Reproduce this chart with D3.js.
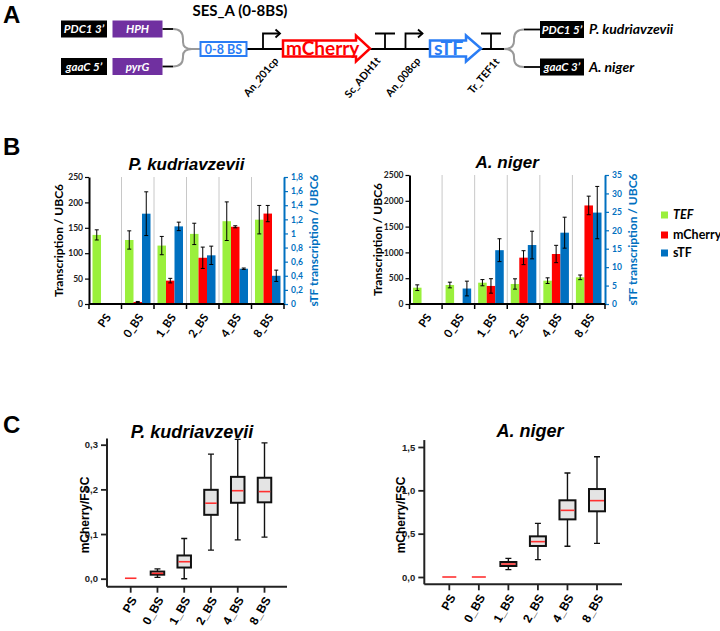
<!DOCTYPE html>
<html><head><meta charset="utf-8">
<script src="https://cdn.jsdelivr.net/npm/d3@7"></script>
<style>body{margin:0;background:#fff}</style>
</head><body>
<svg id="c" width="720" height="631" xmlns="http://www.w3.org/2000/svg"></svg>
<script>
// ---------------- DATA ----------------
const categories = ["PS","0_BS","1_BS","2_BS","4_BS","8_BS"];
const seriesNames = ["TEF","mCherry","sTF"];

// Panel B – P. kudriavzevii (TEF, mCherry on left axis; sTF on right axis)
const pkTEF = [136,126,115,138,163,166];
const pkTEFErr = [10,18,18,21,38,28];
const pkMCherry = [null,4,46,91,152,178];
const pkMCherryErr = [null,1,4.5,21,2,16];
const pkSTF = [null,1.28,1.10,0.69,0.50,0.40];
const pkSTFErr = [null,0.31,0.06,0.13,0.01,0.08];
const pkLeftTicks = [0,50,100,150,200,250];
const pkRightTicks = [0,0.2,0.4,0.6,0.8,1,1.2,1.4,1.6,1.8];

// Panel B – A. niger
const anTEF = [316,368,413,388,452,517];
const anTEFErr = [55,55,60,100,55,45];
const anMCherry = [null,null,350,898,969,1910];
const anMCherryErr = [null,null,140,135,168,180];
const anSTF = [null,4.2,14.6,16.0,19.35,24.8];
const anSTFErr = [null,2.0,3.1,3.75,4.2,7.1];
const anLeftTicks = [0,500,1000,1500,2000,2500];
const anRightTicks = [0,5,10,15,20,25,30,35];

// Panel C – mCherry/FSC box plots
const pkLow  = [0.001,0.003,0.000,0.064,0.087,0.093];
const pkQ1   = [0.001,0.009,0.025,0.143,0.170,0.171];
const pkMed  = [0.001,0.012,0.038,0.169,0.197,0.195];
const pkQ3   = [0.001,0.016,0.052,0.199,0.228,0.226];
const pkHigh = [0.001,0.022,0.090,0.279,0.312,0.304];
const pkCTicks = [0,0.1,0.2,0.3];

const anLow  = [0,0,0.085,0.200,0.354,0.388];
const anQ1   = [0,0,0.127,0.358,0.665,0.758];
const anMed  = [0,0,0.150,0.408,0.769,0.881];
const anQ3   = [0,0,0.173,0.469,0.885,1.015];
const anHigh = [0,0,0.215,0.619,1.200,1.388];
const anCTicks = [0,0.5,1.0,1.5];

// Panel A construct labels
const topParts = ["PDC1 3\u2019","HPH"];
const bottomParts = ["gaaC 5\u2019","pyrG"];
const rightParts = ["PDC1 5\u2019","gaaC 3\u2019"];
const species = ["P. kudriavzevii","A. niger"];
const elementLabels = ["An_201cp","Sc_ADH1t","An_008cp","Tr_TEF1t"];

// ---------------- STYLE ----------------
const GREEN = "#9af03c", RED = "#ff0000", BLUE = "#0070c0", ABLUE = "#2a7df5";
const CAL = "Lato, 'Open Sans', sans-serif";
const ARI = "'Liberation Sans', Arial, sans-serif";
const commaFmt = d => (+d.toFixed(1)).toString().replace(".", ",");
const comma1 = d => d.toFixed(1).replace(".", ",");
const intFmt = d3.format("d");

const svg = d3.select("#c");
svg.append("rect").attr("width",720).attr("height",631).attr("fill","#fff");

// ---------------- PANEL A ----------------
(function(){
  const g = svg.append("g");
  g.append("text").attr("x",3).attr("y",23).text("A")
    .attr("font-family",ARI).attr("font-weight","bold").attr("font-size",24);
  g.append("text").attr("x",240).attr("y",16).attr("text-anchor","middle").text("SES_A (0-8BS)")
    .attr("font-family",CAL).attr("font-weight","bold").attr("font-size",15);

  const lineY = 49;
  g.append("line").attr("x1",246).attr("x2",504).attr("y1",lineY).attr("y2",lineY)
    .attr("stroke","#000").attr("stroke-width",2);

  [[topParts,20.5],[bottomParts,58]].forEach(([parts,y])=>{
    g.append("rect").attr("x",61).attr("y",y).attr("width",46).attr("height",17).attr("fill","#000");
    g.append("text").attr("x",84).attr("y",y+12.5).attr("text-anchor","middle").text(parts[0])
      .attr("fill","#fff").attr("font-family",CAL).attr("font-weight","bold").attr("font-style","italic").attr("font-size",11.5);
    g.append("rect").attr("x",112.5).attr("y",y).attr("width",50).attr("height",17).attr("fill","#7030a0");
    g.append("text").attr("x",137.5).attr("y",y+12.5).attr("text-anchor","middle").text(parts[1])
      .attr("fill","#fff").attr("font-family",CAL).attr("font-weight","bold").attr("font-style","italic").attr("font-size",11.5);
    g.append("line").attr("x1",162.5).attr("x2",173).attr("y1",y+8.5).attr("y2",y+8.5).attr("stroke","#000").attr("stroke-width",1.8);
  });
  g.append("path").attr("d",`M173,29 Q183,29 183,39 L183,42 Q183,${lineY} 192,${lineY} M173,66.5 Q183,66.5 183,57 L183,56 Q183,${lineY} 192,${lineY} L200,${lineY}`)
    .attr("fill","none").attr("stroke","#999").attr("stroke-width",2);

  g.append("rect").attr("x",200.5).attr("y",42).attr("width",46).attr("height",14).attr("fill","#fff")
    .attr("stroke",ABLUE).attr("stroke-width",2);
  g.append("text").attr("x",223.5).attr("y",53.5).attr("text-anchor","middle").text("0-8 BS")
    .attr("fill",ABLUE).attr("font-family",CAL).attr("font-weight","bold").attr("font-size",12.5);

  function promoter(x){
    g.append("path").attr("d",`M${x},${lineY} V33.5 H${x+17}`).attr("fill","none").attr("stroke","#000").attr("stroke-width",1.8);
    g.append("path").attr("d",`M${x+12.5},29.5 L${x+17},33.5 L${x+12.5},37.5`).attr("fill","none").attr("stroke","#000").attr("stroke-width",1.8);
  }
  function terminator(x){
    g.append("path").attr("d",`M${x},${lineY} V33.5 M${x-10},33.5 H${x+10}`).attr("fill","none").attr("stroke","#000").attr("stroke-width",1.8);
  }
  function arrow(x0,x1,xt,col,label,fs,tx){
    const cy = 48.5;
    g.append("path").attr("d",`M${x0},${cy-8} H${x1} V${cy-13} L${xt},${cy} L${x1},${cy+13} V${cy+8} H${x0} Z`)
      .attr("fill","#fff").attr("stroke",col).attr("stroke-width",2.5).attr("stroke-linejoin","miter");
    g.append("text").attr("x",tx).attr("y",cy+6.5).text(label).attr("fill",col)
      .attr("font-family",CAL).attr("font-weight","bold").attr("font-size",fs);
  }
  promoter(263);
  arrow(283,356,370,RED,"mCherry",19,286);
  terminator(385);
  promoter(405.5);
  arrow(430,466,481,ABLUE,"sTF",19.5,434);
  terminator(491);

  g.append("path").attr("d",`M504,${lineY} Q514,${lineY} 514,41 L514,39 Q514,29.5 524,29.5 M504,${lineY} Q514,${lineY} 514,57 L514,58 Q514,67 524,67`)
    .attr("fill","none").attr("stroke","#999").attr("stroke-width",2);
  [[29.5,0],[67,1]].forEach(([cy,i])=>{
    g.append("line").attr("x1",524).attr("x2",540).attr("y1",cy).attr("y2",cy).attr("stroke","#000").attr("stroke-width",1.8);
    g.append("rect").attr("x",540).attr("y",cy-8.5).attr("width",44).attr("height",17).attr("fill","#000");
    g.append("text").attr("x",562).attr("y",cy+4).attr("text-anchor","middle").text(rightParts[i])
      .attr("fill","#fff").attr("font-family",CAL).attr("font-weight","bold").attr("font-style","italic").attr("font-size",11.5);
    g.append("text").attr("x",589).attr("y",cy+4.5).text(species[i])
      .attr("fill","#000").attr("font-family",CAL).attr("font-weight","bold").attr("font-style","italic").attr("font-size",14);
  });

  const labelPos = [[273,56],[375,56],[415,56],[494,57]];
  elementLabels.forEach((t,i)=>{
    g.append("text").attr("transform",`translate(${labelPos[i][0]},${labelPos[i][1]}) rotate(-50)`)
      .attr("text-anchor","end").attr("dy","0.75em").text(t)
      .attr("font-family",CAL).attr("font-weight","bold").attr("font-size",10.5);
  });
})();

// ---------------- PANEL B ----------------
svg.append("text").attr("x",3).attr("y",155).text("B")
  .attr("font-family",ARI).attr("font-weight","bold").attr("font-size",24);

function drawBars(cfg){
  const g = svg.append("g");
  const x = d3.scaleBand().domain(categories).range([cfg.x0,cfg.x1]);
  const xs = d3.scaleBand().domain(seriesNames).range([3.5, x.bandwidth()-3.5]);
  const yL = d3.scaleLinear().domain([0,cfg.leftMax]).range([cfg.yBottom,cfg.yTop]);
  const yR = d3.scaleLinear().domain([0,cfg.rightMax]).range([cfg.yBottom,cfg.yTop]);

  g.selectAll(".grid").data(categories.slice(1)).join("line")
    .attr("x1",d=>x(d)).attr("x2",d=>x(d)).attr("y1",cfg.yTop).attr("y2",cfg.yBottom)
    .attr("stroke","#c8c8c8").attr("stroke-width",1);

  const series = [
    {name:"TEF",v:cfg.tef,e:cfg.tefErr,y:yL,col:GREEN},
    {name:"mCherry",v:cfg.mch,e:cfg.mchErr,y:yL,col:RED},
    {name:"sTF",v:cfg.stf,e:cfg.stfErr,y:yR,col:BLUE}
  ];
  series.forEach(s=>{
    const data = categories.map((c,i)=>({c,v:s.v[i],e:s.e[i]})).filter(d=>d.v!=null);
    g.selectAll(null).data(data).join("rect")
      .attr("x",d=>x(d.c)+xs(s.name)).attr("width",xs.bandwidth())
      .attr("y",d=>s.y(d.v)).attr("height",d=>cfg.yBottom-s.y(d.v)).attr("fill",s.col);
  });
  series.forEach(s=>{
    const data = categories.map((c,i)=>({c,v:s.v[i],e:s.e[i]})).filter(d=>d.v!=null);
    const cx = d=>x(d.c)+xs(s.name)+xs.bandwidth()/2;
    g.selectAll(null).data(data).join("path")
      .attr("d",d=>{const a=s.y(d.v+d.e), b=s.y(Math.max(0,d.v-d.e)), c=cx(d);
        return `M${c},${a}V${b}M${c-2},${a}H${c+2}M${c-2},${b}H${c+2}`;})
      .attr("stroke","#000").attr("stroke-width",1).attr("fill","none");
  });

  const la = g.append("g").attr("transform",`translate(${cfg.x0},0)`)
    .call(d3.axisLeft(yL).tickValues(cfg.leftTicks).tickSize(4).tickSizeOuter(0).tickPadding(2).tickFormat(intFmt));
  la.select(".domain").attr("stroke","#000").attr("stroke-width",2);
  la.selectAll(".tick line").attr("stroke","#000").attr("stroke-width",1.2);
  la.selectAll(".tick text").attr("font-family",CAL).attr("font-weight","bold").attr("font-size",8.5).attr("fill","#222");
  const ra = g.append("g").attr("transform",`translate(${cfg.x1},0)`)
    .call(d3.axisRight(yR).tickValues(cfg.rightTicks).tickSize(4).tickSizeOuter(0).tickPadding(3).tickFormat(commaFmt));
  ra.select(".domain").attr("stroke",BLUE).attr("stroke-width",2);
  ra.selectAll(".tick line").attr("stroke",BLUE).attr("stroke-width",1.2);
  ra.selectAll(".tick text").attr("font-family",CAL).attr("font-weight","bold").attr("font-size",8.5).attr("fill",BLUE);
  g.append("line").attr("x1",cfg.x0).attr("x2",cfg.x1).attr("y1",cfg.yBottom).attr("y2",cfg.yBottom)
    .attr("stroke","#000").attr("stroke-width",2);
  const bounds = categories.map(c=>x(c)).concat([x.range()[1]]);
  g.selectAll(null).data(bounds).join("line")
    .attr("x1",d=>d).attr("x2",d=>d).attr("y1",cfg.yBottom).attr("y2",cfg.yBottom+5)
    .attr("stroke","#000").attr("stroke-width",1.5);
  g.selectAll(null).data(categories).join("text")
    .attr("transform",d=>`translate(${x(d)+x.bandwidth()/2+3},${cfg.yBottom+11}) rotate(-55)`)
    .attr("text-anchor","end").attr("dy","0.35em").text(d=>d)
    .attr("font-family",CAL).attr("font-weight","bold").attr("font-size",11.5);
  g.append("text").attr("transform",`translate(${cfg.leftLabelX},${(cfg.yTop+cfg.yBottom)/2}) rotate(-90)`)
    .attr("text-anchor","middle").attr("dy","0.35em").text("Transcription / UBC6")
    .attr("font-family",CAL).attr("font-weight","bold").attr("font-size",12);
  g.append("text").attr("transform",`translate(${cfg.rightLabelX},${(cfg.yTop+cfg.yBottom)/2}) rotate(-90)`)
    .attr("text-anchor","middle").attr("dy","0.35em").text("sTF transcription / UBC6").attr("fill",BLUE)
    .attr("font-family",CAL).attr("font-weight","bold").attr("font-size",12);
  g.append("text").attr("x",(cfg.x0+cfg.x1)/2).attr("y",cfg.yTop-7).attr("text-anchor","middle").text(cfg.title)
    .attr("font-family",ARI).attr("font-weight","bold").attr("font-style","italic").attr("font-size",17);
}

drawBars({x0:89,x1:284,yTop:177,yBottom:304,leftMax:250,rightMax:1.8,
  leftTicks:pkLeftTicks,rightTicks:pkRightTicks,
  tef:pkTEF,tefErr:pkTEFErr,mch:pkMCherry,mchErr:pkMCherryErr,stf:pkSTF,stfErr:pkSTFErr,
  leftLabelX:59,rightLabelX:314,title:"P. kudriavzevii"});
drawBars({x0:409.5,x1:605,yTop:175,yBottom:304,leftMax:2500,rightMax:35,
  leftTicks:anLeftTicks,rightTicks:anRightTicks,
  tef:anTEF,tefErr:anTEFErr,mch:anMCherry,mchErr:anMCherryErr,stf:anSTF,stfErr:anSTFErr,
  leftLabelX:378,rightLabelX:633,title:"A. niger"});

(function(){
  const lg = svg.append("g");
  const cols = [GREEN,RED,BLUE];
  const ys = [215,235,253];
  seriesNames.forEach((n,i)=>{
    lg.append("rect").attr("x",661).attr("y",ys[i]-3.5).attr("width",7).attr("height",7).attr("fill",cols[i]);
    lg.append("text").attr("x",673).attr("y",ys[i]).attr("dy","0.35em").text(n)
      .attr("font-family",CAL).attr("font-weight","bold").attr("font-size",12.5)
      .attr("font-style",i===0?"italic":"normal");
  });
})();

// ---------------- PANEL C ----------------
svg.append("text").attr("x",3).attr("y",433).text("C")
  .attr("font-family",ARI).attr("font-weight","bold").attr("font-size",24);

function drawBox(cfg){
  const g = svg.append("g");
  const x = d3.scalePoint().domain(categories).range([cfg.c0,cfg.c1]);
  const y = d3.scaleLinear().domain([0,cfg.max]).range([cfg.y0,cfg.yMax]);
  const data = categories.map((c,i)=>({c,lo:cfg.lo[i],q1:cfg.q1[i],med:cfg.med[i],q3:cfg.q3[i],hi:cfg.hi[i]}));
  const bw = cfg.bw, cw = 6;
  const withBox = data.filter(d=>d.q3>d.q1);
  g.selectAll(null).data(withBox).join("path")
    .attr("d",d=>{const c=x(d.c);
      return `M${c},${y(d.lo)}V${y(d.q1)}M${c},${y(d.q3)}V${y(d.hi)}M${c-cw/2},${y(d.lo)}H${c+cw/2}M${c-cw/2},${y(d.hi)}H${c+cw/2}`;})
    .attr("stroke","#111").attr("stroke-width",1.4).attr("fill","none");
  g.selectAll(null).data(withBox).join("rect")
    .attr("x",d=>x(d.c)-bw/2).attr("width",bw).attr("y",d=>y(d.q3)).attr("height",d=>y(d.q1)-y(d.q3))
    .attr("fill","#e4e4e4").attr("stroke","#111").attr("stroke-width",2);
  g.selectAll(null).data(data).join("line")
    .attr("x1",d=>x(d.c)-bw/2+1).attr("x2",d=>x(d.c)+bw/2-1).attr("y1",d=>y(d.med)).attr("y2",d=>y(d.med))
    .attr("stroke","#ff3030").attr("stroke-width",1.6);

  const ya = g.append("g").attr("transform",`translate(${cfg.axisX},0)`)
    .call(d3.axisLeft(y).tickValues(cfg.ticks).tickSize(6).tickSizeOuter(0).tickPadding(3).tickFormat(comma1));
  ya.select(".domain").remove();
  ya.selectAll(".tick line").attr("stroke","#222").attr("stroke-width",1.8);
  ya.selectAll(".tick text").attr("font-family",ARI).attr("font-weight","bold").attr("font-size",9.5).attr("fill","#222");
  g.append("line").attr("x1",cfg.axisX).attr("x2",cfg.axisX).attr("y1",cfg.xAxisY).attr("y2",y(cfg.axisTop))
    .attr("stroke","#222").attr("stroke-width",2);
  g.append("line").attr("x1",cfg.axisX).attr("x2",cfg.xEnd).attr("y1",cfg.xAxisY).attr("y2",cfg.xAxisY)
    .attr("stroke","#222").attr("stroke-width",2);
  g.selectAll(null).data(categories).join("line")
    .attr("x1",d=>x(d)).attr("x2",d=>x(d)).attr("y1",cfg.xAxisY).attr("y2",cfg.xAxisY+6)
    .attr("stroke","#222").attr("stroke-width",1.8);
  g.selectAll(null).data(categories).join("text")
    .attr("transform",d=>`translate(${x(d)+3},${cfg.xAxisY+11}) rotate(-60)`)
    .attr("text-anchor","end").attr("dy","0.35em").text(d=>d)
    .attr("font-family",ARI).attr("font-weight","bold").attr("font-size",12);
  g.append("text").attr("transform",`translate(${cfg.yLabelX},515) rotate(-90)`)
    .attr("text-anchor","middle").attr("dy","0.35em").text("mCherry/FSC")
    .attr("font-family",ARI).attr("font-weight","bold").attr("font-size",12);
  g.append("text").attr("x",cfg.titleX).attr("y",cfg.titleY).attr("text-anchor","middle").text(cfg.title)
    .attr("font-family",ARI).attr("font-weight","bold").attr("font-style","italic").attr("font-size",18);
}

drawBox({c0:130.7,c1:264.5,max:0.3,y0:578.7,yMax:444.7,bw:13.5,axisX:107,xAxisY:586.7,xEnd:287,axisTop:0.314,
  lo:pkLow,q1:pkQ1,med:pkMed,q3:pkQ3,hi:pkHigh,ticks:pkCTicks,yLabelX:85,title:"P. kudriavzevii",titleX:192,titleY:438});
drawBox({c0:449.3,c1:597,max:1.5,y0:577,yMax:447,bw:16,axisX:424.3,xAxisY:584.3,xEnd:622,axisTop:1.58,
  lo:anLow,q1:anQ1,med:anMed,q3:anQ3,hi:anHigh,ticks:anCTicks,yLabelX:401,title:"A. niger",titleX:530,titleY:437});
</script>
</body></html>
